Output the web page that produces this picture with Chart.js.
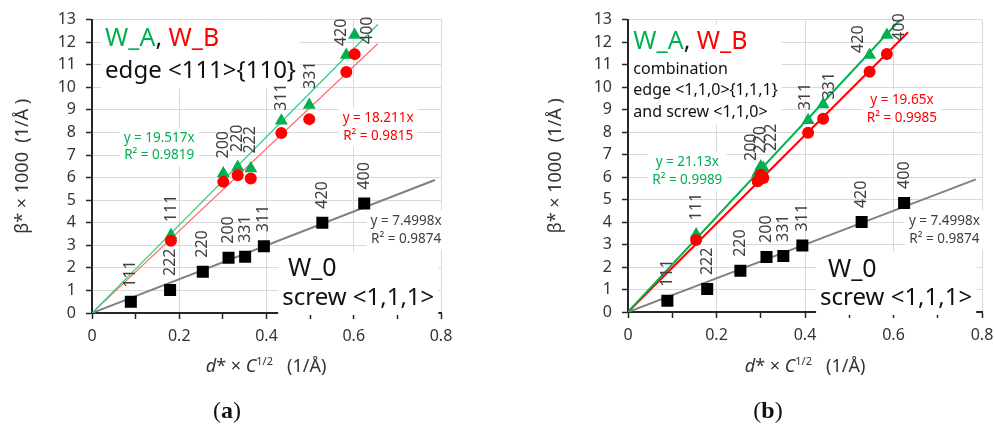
<!DOCTYPE html>
<html>
<head>
<meta charset="utf-8">
<script src="https://cdn.jsdelivr.net/npm/chart.js@4.4.0/dist/chart.umd.min.js"></script>
<style>
  body { margin: 0; width: 994px; height: 428px; overflow: hidden; background: #fff; position: relative; font-family: "Noto Sans", sans-serif; }
  .panel { position: absolute; top: 0; }
  .xtitle { position: absolute; top: 353px; width: 220px; margin-left: -110px; text-align: center; font-size: 18px; color: #333; white-space: pre; }
  .xtitle sup { font-size: 11px; vertical-align: 7px; }
  .cap { position: absolute; top: 397px; width: 60px; margin-left: -30px; text-align: center; font: 24px "Liberation Serif", serif; color: #111; }
</style>
</head>
<body>
<canvas id="chartA" class="panel" style="left:0" width="500" height="428"></canvas>
<canvas id="chartB" class="panel" style="left:500px" width="520" height="428"></canvas>
<div class="xtitle" style="left:266px"><i>d</i>* × <i>C</i><sup>1/2</sup>   (1/Å)</div>
<div class="xtitle" style="left:805px"><i>d</i>* × <i>C</i><sup>1/2</sup>   (1/Å)</div>
<div class="cap" style="left:227px">(<b>a</b>)</div>
<div class="cap" style="left:768px">(<b>b</b>)</div>
<script>
// reflections for the deformed samples W_A / W_B
const hklLabels = ['111', '200', '220', '222', '311', '331', '420', '400'];
const xPanelA = [0.181, 0.301, 0.334, 0.364, 0.434, 0.498, 0.583, 0.602];
const xPanelB = [0.154, 0.293, 0.300, 0.306, 0.407, 0.441, 0.546, 0.585];
const betaWA = [3.45, 6.18, 6.47, 6.40, 8.52, 9.22, 11.43, 12.32];
const betaWB = [3.20, 5.81, 6.10, 5.96, 7.97, 8.59, 10.68, 11.47];

// reference sample W_0 (same in both panels)
const w0Labels = ['111', '222', '220', '200', '331', '311', '420', '400'];
const xW0 = [0.089, 0.179, 0.254, 0.313, 0.351, 0.394, 0.528, 0.624];
const betaW0 = [0.50, 1.02, 1.83, 2.45, 2.49, 2.96, 4.00, 4.85];

// linear fits y = k x  -> [W_A, W_B, W_0]
const slopesA = [19.517, 18.211, 7.4998];
const slopesB = [21.13, 19.65, 7.4998];
const r2A = [0.9819, 0.9815, 0.9874];
const r2B = [0.9989, 0.9985, 0.9874];
const fitEndA = [0.655, 0.655, 0.786];
const fitEndB = [0.618, 0.633, 0.786];

const yTicks = [0, 13, 1];   // min, max, step
const xTicks = [0, 0.8, 0.1];

const GREEN = '#00B050';
const RED = '#FF0000';
const INK = '#111111';
const GREY = '#404040';
const FONT = '"Noto Sans", sans-serif';

const eqText = k => 'y = ' + k + 'x';
const r2Text = r => 'R² = ' + r;
const pts = (xs, ys) => xs.map((x, i) => ({ x: x, y: ys[i] }));
const fitLine = (k, end) => [{ x: 0, y: 0 }, { x: end, y: k * end }];

// text boxes on a white background, positions in data units
const notesPlugin = {
    id: 'notes',
    beforeDatasetsDraw(chart, args, opts) {
        const ctx = chart.ctx;
        const sx = chart.scales.x, sy = chart.scales.y;
        opts.blocks.forEach(block => {
            ctx.save();
            const laid = block.lines.map(line => {
                ctx.font = line.size + 'px ' + FONT;
                const w = line.segs.reduce((s, seg) => s + ctx.measureText(seg[0]).width, 0);
                const cx = sx.getPixelForValue(line.x);
                const left = line.align === 'center' ? cx - w / 2 : cx;
                const cy = sy.getPixelForValue(line.y);
                return { line, w, left, cy };
            });
            let x0 = Infinity, x1 = -Infinity, y0 = Infinity, y1 = -Infinity;
            laid.forEach(l => {
                x0 = Math.min(x0, l.left); x1 = Math.max(x1, l.left + l.w);
                y0 = Math.min(y0, l.cy - l.line.size * 0.62); y1 = Math.max(y1, l.cy + l.line.size * 0.62);
            });
            ctx.fillStyle = '#fff';
            ctx.fillRect(x0 - 4, y0 - 2, x1 - x0 + 8, y1 - y0 + 4);
            ctx.textBaseline = 'middle';
            ctx.textAlign = 'left';
            laid.forEach(l => {
                ctx.font = l.line.size + 'px ' + FONT;
                let x = l.left;
                l.line.segs.forEach(seg => {
                    ctx.fillStyle = seg[1];
                    ctx.fillText(seg[0], x, l.cy);
                    x += ctx.measureText(seg[0]).width;
                });
            });
            ctx.restore();
        });
    }
};

// rotated hkl labels above the markers
const hklPlugin = {
    id: 'hkl',
    afterDatasetsDraw(chart, args, opts) {
        const ctx = chart.ctx;
        opts.sets.forEach(set => {
            const meta = chart.getDatasetMeta(set.ds);
            meta.data.forEach((pt, i) => {
                const off = set.offsets[i];
                ctx.save();
                ctx.translate(pt.x + off[0], pt.y - off[1]);
                ctx.rotate(-Math.PI / 2);
                ctx.font = '16px ' + FONT;
                ctx.fillStyle = GREY;
                ctx.textAlign = 'left';
                ctx.textBaseline = 'middle';
                ctx.fillText(set.labels[i], 0, 0);
                ctx.restore();
            });
        });
    }
};

function makePanel(id, cfg) {
    const xs = cfg.xs;
    return new Chart(document.getElementById(id), {
        type: 'scatter',
        data: {
            datasets: [
                { label: 'W_B', data: pts(xs, betaWB), pointStyle: 'circle', pointRadius: 6, backgroundColor: RED, borderWidth: 0, order: 0 },
                { label: 'W_A', data: pts(xs, betaWA), pointStyle: 'triangle', pointRadius: 7.5, backgroundColor: GREEN, borderWidth: 0, order: 1 },
                { label: 'W_0', data: pts(xW0, betaW0), pointStyle: 'rect', pointRadius: 8.5, backgroundColor: '#000', borderWidth: 0, order: 2 },
                { label: 'fit W_A', data: fitLine(cfg.slopes[0], cfg.ends[0]), showLine: true, pointRadius: 0, borderColor: cfg.lineColors[0], borderWidth: cfg.lineWidth, order: 5 },
                { label: 'fit W_B', data: fitLine(cfg.slopes[1], cfg.ends[1]), showLine: true, pointRadius: 0, borderColor: cfg.lineColors[1], borderWidth: cfg.lineWidth, order: 5 },
                { label: 'fit W_0', data: fitLine(cfg.slopes[2], cfg.ends[2]), showLine: true, pointRadius: 0, borderColor: '#808080', borderWidth: 2, order: 5 }
            ]
        },
        options: {
            responsive: false,
            animation: false,
            events: [],
            layout: { padding: cfg.padding },
            scales: {
                x: {
                    type: 'linear',
                    min: xTicks[0], max: xTicks[1],
                    afterFit: s => { s.height = 35; },
                    border: { color: '#262626', width: 2 },
                    grid: {
                        color: c => c.index % 2 ? 'rgba(0,0,0,0)' : '#D9D9D9',
                        tickColor: '#262626', tickLength: 6, tickWidth: 1.5
                    },
                    ticks: {
                        stepSize: xTicks[2], autoSkip: false, maxRotation: 0, padding: 8,
                        color: '#333', font: { family: FONT, size: 16 },
                        callback: (v, i) => i % 2 ? '' : String(+v.toFixed(1))
                    }
                },
                y: {
                    min: yTicks[0], max: yTicks[1],
                    afterFit: s => { s.width = cfg.yWidth; },
                    border: { color: '#262626', width: 2 },
                    grid: { color: '#D9D9D9', tickColor: '#262626', tickLength: 6, tickWidth: 1.5 },
                    ticks: { stepSize: yTicks[2], padding: 10, color: '#333', font: { family: FONT, size: 16 } },
                    title: { display: true, text: 'β* × 1000  (1/Å )', padding: 0, color: '#333', font: { family: FONT, size: 18 } }
                }
            },
            plugins: {
                legend: { display: false },
                tooltip: { enabled: false },
                notes: { blocks: cfg.blocks },
                hkl: { sets: cfg.hklSets }
            }
        },
        plugins: [notesPlugin, hklPlugin]
    });
}

const w0Offsets = w0Labels.map(() => [0, 14]);
const eqLines = (x, y1, y2, k, r, color) => ({ lines: [
    { x: x, y: y1, align: 'center', size: 13.5, segs: [[eqText(k), color]] },
    { x: x, y: y2, align: 'center', size: 13.5, segs: [[r2Text(r), color]] }
] });

makePanel('chartA', {
    xs: xPanelA,
    slopes: slopesA,
    ends: fitEndA,
    lineColors: ['#2ECB7E', '#FF6A6A'],
    lineWidth: 1.2,
    padding: { left: 12, right: 59, top: 19, bottom: 80 },
    yWidth: 80,
    blocks: [
        { lines: [
            { x: 0.030, y: 12.15, align: 'left', size: 25, segs: [['W_A', GREEN], [', ', INK], ['W_B', RED]] },
            { x: 0.030, y: 10.7, align: 'left', size: 24, segs: [['edge <111>{110}', INK]] }
        ] },
        eqLines(0.154, 7.74, 6.99, slopesA[0], r2A[0], GREEN),
        eqLines(0.656, 8.63, 7.83, slopesA[1], r2A[1], RED),
        eqLines(0.72, 4.07, 3.27, slopesA[2], r2A[2], GREY),
        { lines: [
            { x: 0.449, y: 1.95, align: 'left', size: 25, segs: [['W_0', INK]] },
            { x: 0.436, y: 0.66, align: 'left', size: 24, segs: [['screw <1,1,1>', INK]] }
        ] }
    ],
    hklSets: [
        { ds: 1, labels: hklLabels, offsets: [[0, 13], [0, 15], [0, 15], [0, 15], [0, 10], [1, 16], [-5, 9], [13, -9]] },
        { ds: 2, labels: w0Labels, offsets: w0Offsets }
    ]
});

makePanel('chartB', {
    xs: xPanelB,
    slopes: slopesB,
    ends: fitEndB,
    lineColors: [GREEN, RED],
    lineWidth: 2,
    padding: { left: 45, right: 38, top: 17, bottom: 81 },
    yWidth: 83,
    blocks: [
        { lines: [
            { x: 0.012, y: 12.0, align: 'left', size: 25, segs: [['W_A', GREEN], [', ', INK], ['W_B', RED]] },
            { x: 0.012, y: 10.77, align: 'left', size: 16, segs: [['combination', INK]] },
            { x: 0.012, y: 9.85, align: 'left', size: 16, segs: [['edge <1,1,0>{1,1,1}', INK]] },
            { x: 0.012, y: 8.88, align: 'left', size: 16, segs: [['and screw <1,1,0>', INK]] }
        ] },
        eqLines(0.134, 6.64, 5.85, slopesB[0], r2B[0], GREEN),
        eqLines(0.619, 9.41, 8.62, slopesB[1], r2B[1], RED),
        eqLines(0.715, 4.04, 3.25, slopesB[2], r2B[2], GREY),
        { lines: [
            { x: 0.452, y: 1.89, align: 'left', size: 25, segs: [['W_0', INK]] },
            { x: 0.434, y: 0.62, align: 'left', size: 24, segs: [['screw <1,1,1>', INK]] }
        ] }
    ],
    hklSets: [
        { ds: 1, labels: hklLabels, offsets: [[0, 14], [-6, 12], [0, 13], [8, 17], [-3, 10], [6, 5], [-11, 2], [13, -6]] },
        { ds: 2, labels: w0Labels, offsets: w0Offsets }
    ]
});
</script>
</body>
</html>
